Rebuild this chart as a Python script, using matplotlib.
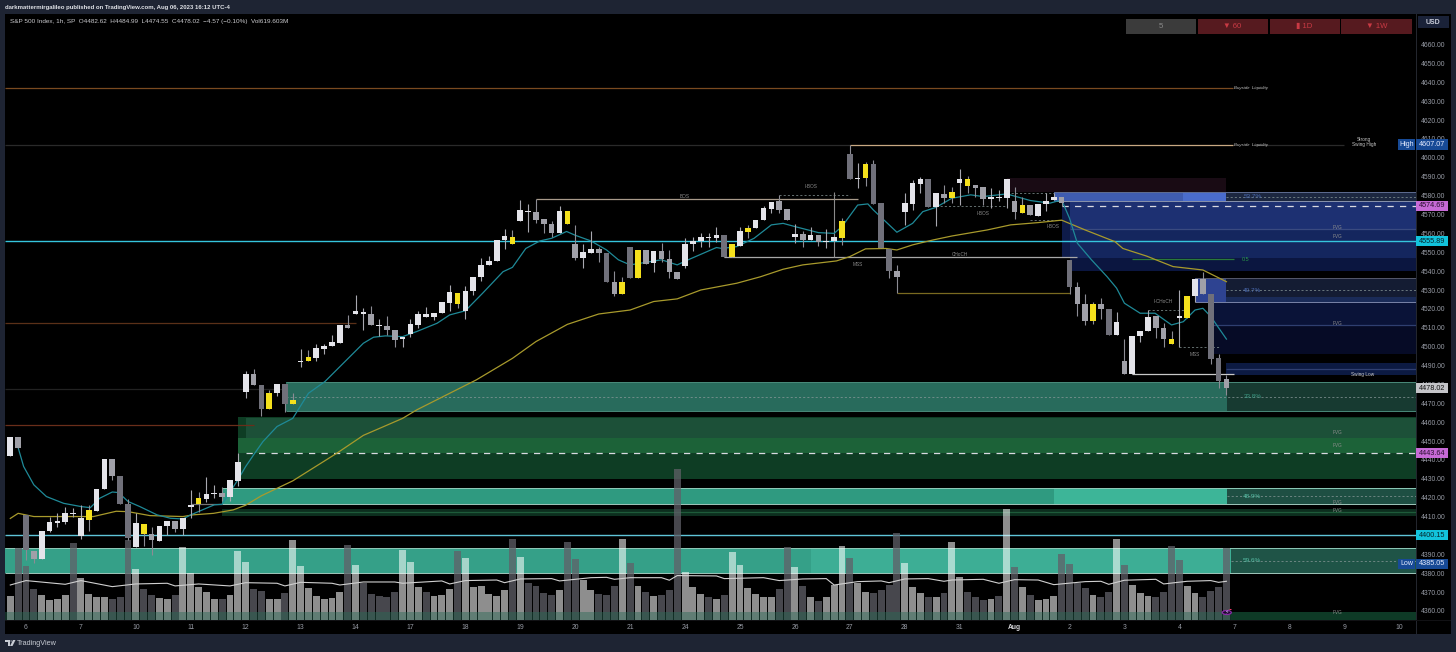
import matplotlib
matplotlib.use("Agg")
import matplotlib.pyplot as plt
from matplotlib.patches import Rectangle, Circle, Polygon
from matplotlib.transforms import blended_transform_factory

plt.rcParams['font.family'] = ['Liberation Sans', 'DejaVu Sans']

W, H = 1456, 652

# hourly candles
opens = [4442.3, 4452.2, 4410.9, 4391.8, 4387.5, 4402.2, 4406.8, 4407.3, 4411.4, 4399.7,
         4408.4, 4413.2, 4424.5, 4440.4, 4431.5, 4416.7, 4394.0, 4401.0, 4400.8, 4397.3,
         4404.9, 4407.7, 4403.6, 4415.0, 4416.5, 4419.5, 4422.0, 4422.5, 4420.4, 4428.9,
         4476.0, 4485.5, 4479.7, 4467.0, 4475.3, 4480.4, 4469.7, 4491.9, 4492.6, 4494.2,
         4498.8, 4500.4, 4502.1, 4511.5, 4517.5, 4517.3, 4517.1, 4510.8, 4511.0, 4509.0,
         4504.3, 4506.7, 4511.5, 4515.9, 4515.7, 4517.9, 4523.3, 4522.4, 4518.9, 4529.5,
         4536.7, 4543.3, 4545.4, 4556.3, 4554.6, 4566.8, 4571.2, 4571.2, 4567.5, 4564.8,
         4560.0, 4565.2, 4554.2, 4547.0, 4549.8, 4551.6, 4549.8, 4534.0, 4527.9, 4553.0,
         4536.6, 4551.2, 4544.5, 4550.9, 4546.5, 4539.8, 4542.7, 4554.4, 4555.8, 4557.4,
         4557.4, 4559.2, 4547.5, 4553.2, 4560.8, 4562.7, 4566.9, 4573.0, 4577.0, 4572.9,
         4558.3, 4559.5, 4556.5, 4559.2, 4555.3, 4556.0, 4557.6, 4602.0, 4588.8, 4589.5,
         4596.6, 4576.0, 4551.8, 4540.0, 4571.4, 4575.8, 4586.2, 4588.7, 4574.2, 4580.9,
         4578.8, 4586.5, 4585.3, 4585.5, 4584.4, 4578.4, 4578.5, 4578.6, 4577.2, 4571.0,
         4574.9, 4569.2, 4575.4, 4577.7, 4579.1, 4545.9, 4531.5, 4522.6, 4513.6, 4522.6,
         4519.8, 4506.0, 4492.4, 4485.5, 4505.7, 4508.5, 4516.3, 4509.7, 4501.6, 4515.4,
         4515.0, 4527.0, 4535.9, 4527.7, 4493.8, 4482.62]
highs = [4452.0, 4452.2, 4410.9, 4391.8, 4402.2, 4410.0, 4411.7, 4415.3, 4414.4, 4416.2,
         4416.2, 4424.5, 4440.4, 4440.4, 4431.5, 4419.2, 4412.0, 4406.0, 4404.3, 4404.9,
         4407.7, 4407.7, 4409.0, 4423.8, 4423.2, 4430.8, 4426.8, 4425.5, 4429.2, 4443.5,
         4487.3, 4488.2, 4479.7, 4477.0, 4480.4, 4480.4, 4475.7, 4498.8, 4498.3, 4501.4,
         4501.4, 4506.2, 4511.5, 4517.0, 4527.4, 4520.3, 4521.7, 4514.5, 4516.3, 4509.0,
         4505.1, 4514.5, 4519.0, 4520.8, 4517.7, 4523.7, 4532.7, 4528.6, 4532.2, 4536.7,
         4547.2, 4548.0, 4556.3, 4562.2, 4561.8, 4577.7, 4575.6, 4578.2, 4567.5, 4566.8,
         4574.5, 4571.7, 4564.5, 4554.4, 4561.0, 4553.0, 4549.8, 4540.3, 4536.7, 4553.0,
         4551.2, 4551.2, 4550.9, 4554.8, 4551.2, 4539.8, 4557.4, 4558.3, 4560.0, 4560.0,
         4563.6, 4559.2, 4554.2, 4563.6, 4564.5, 4567.1, 4574.5, 4576.6, 4580.4, 4572.9,
         4564.8, 4561.5, 4563.6, 4559.2, 4562.3, 4557.9, 4568.0, 4606.8, 4597.5, 4598.0,
         4599.0, 4576.0, 4551.8, 4543.3, 4581.2, 4588.3, 4589.7, 4588.7, 4581.2, 4585.7,
         4584.8, 4594.0, 4590.4, 4585.5, 4584.4, 4583.9, 4583.0, 4588.8, 4584.4, 4579.5,
         4574.9, 4575.4, 4581.6, 4581.6, 4579.1, 4545.9, 4534.4, 4527.9, 4523.5, 4526.0,
         4519.8, 4518.2, 4503.9, 4505.8, 4508.3, 4519.4, 4516.3, 4512.3, 4508.3, 4530.0,
         4527.0, 4536.0, 4539.8, 4527.7, 4496.0, 4484.99]
lows = [4442.3, 4446.5, 4387.0, 4385.3, 4387.5, 4401.7, 4404.7, 4406.0, 4409.6, 4398.0,
        4402.6, 4413.2, 4424.5, 4429.4, 4416.7, 4397.5, 4394.0, 4394.6, 4389.7, 4397.0,
        4400.3, 4402.0, 4400.3, 4409.0, 4412.6, 4417.9, 4419.7, 4418.0, 4418.0, 4426.0,
        4472.7, 4479.7, 4463.0, 4467.0, 4474.0, 4465.6, 4469.7, 4489.4, 4492.6, 4492.6,
        4496.0, 4500.4, 4502.1, 4509.7, 4517.5, 4508.8, 4511.3, 4505.7, 4506.2, 4500.0,
        4499.7, 4505.0, 4510.0, 4515.9, 4514.0, 4517.9, 4519.0, 4520.3, 4514.5, 4527.4,
        4535.0, 4543.3, 4545.4, 4551.8, 4554.6, 4566.8, 4560.9, 4565.3, 4560.0, 4558.0,
        4560.0, 4565.2, 4546.0, 4541.5, 4549.8, 4545.0, 4534.0, 4527.0, 4527.9, 4536.6,
        4536.6, 4544.0, 4539.8, 4545.0, 4536.6, 4536.0, 4541.5, 4550.9, 4553.0, 4553.0,
        4555.6, 4547.3, 4547.5, 4553.2, 4557.4, 4562.7, 4566.9, 4570.6, 4570.6, 4567.0,
        4555.0, 4552.6, 4556.5, 4553.5, 4552.0, 4556.0, 4553.9, 4588.8, 4583.9, 4585.0,
        4575.8, 4552.0, 4536.6, 4528.3, 4564.5, 4572.4, 4581.2, 4574.2, 4563.9, 4576.0,
        4576.0, 4575.0, 4581.2, 4579.5, 4575.0, 4573.3, 4577.0, 4573.3, 4567.5, 4571.0,
        4569.8, 4569.2, 4572.0, 4577.7, 4574.5, 4527.9, 4516.3, 4511.5, 4512.0, 4514.5,
        4506.0, 4506.0, 4485.7, 4485.5, 4502.7, 4508.5, 4504.4, 4499.7, 4501.6, 4500.0,
        4515.0, 4523.5, 4527.7, 4490.8, 4478.0, 4474.55]
closes = [4452.0, 4446.5, 4392.3, 4387.5, 4402.2, 4407.0, 4407.7, 4411.7, 4411.9, 4409.4,
          4413.5, 4424.5, 4440.4, 4431.5, 4416.7, 4398.9, 4406.4, 4406.0, 4397.4, 4404.9,
          4407.7, 4403.4, 4409.0, 4416.3, 4419.7, 4422.2, 4422.5, 4420.4, 4429.2, 4439.0,
          4485.6, 4479.7, 4466.8, 4475.7, 4480.4, 4469.7, 4471.8, 4492.5, 4494.4, 4499.1,
          4500.4, 4502.3, 4511.5, 4509.7, 4518.9, 4518.4, 4511.3, 4511.5, 4508.9, 4503.5,
          4505.1, 4511.9, 4517.1, 4517.1, 4517.7, 4523.7, 4529.2, 4528.6, 4529.7, 4536.7,
          4543.3, 4545.4, 4556.3, 4558.6, 4558.3, 4572.4, 4571.9, 4567.3, 4565.0, 4560.0,
          4571.9, 4571.7, 4547.2, 4550.3, 4551.6, 4549.8, 4534.0, 4527.9, 4534.4, 4536.6,
          4551.2, 4544.0, 4550.9, 4546.5, 4539.4, 4536.0, 4554.2, 4555.8, 4557.9, 4558.1,
          4559.0, 4547.3, 4554.2, 4561.0, 4562.7, 4567.1, 4573.3, 4576.6, 4572.4, 4567.0,
          4559.7, 4556.5, 4559.0, 4555.6, 4556.2, 4557.9, 4566.6, 4588.8, 4589.5, 4596.8,
          4575.8, 4552.0, 4540.0, 4537.0, 4576.0, 4586.5, 4588.8, 4574.2, 4581.2, 4578.8,
          4582.0, 4589.0, 4588.8, 4584.2, 4578.2, 4579.3, 4579.0, 4588.8, 4571.2, 4574.9,
          4569.8, 4575.4, 4577.4, 4579.0, 4576.3, 4531.8, 4522.8, 4513.6, 4522.6, 4519.8,
          4506.0, 4512.9, 4485.7, 4505.8, 4508.3, 4515.9, 4509.7, 4503.9, 4503.9, 4516.3,
          4527.0, 4536.0, 4527.7, 4493.7, 4482.0, 4478.02]
yellow_bars = [10, 17, 24, 33, 36, 38, 57, 64, 71, 78, 80, 92, 94, 106, 109, 120, 122, 129,
               138, 148, 150]

# volume in millions
volumes = [207, 623, 465, 267, 212, 172, 178, 215, 660, 359,
           224, 201, 195, 184, 201, 689, 442, 264, 215, 187,
           181, 212, 626, 408, 287, 244, 178, 178, 212, 591,
           499, 267, 250, 178, 178, 230, 689, 465, 273, 207,
           178, 187, 238, 643, 471, 316, 224, 207, 198, 241,
           603, 497, 287, 238, 207, 215, 264, 597, 534, 284,
           293, 221, 204, 258, 700, 540, 321, 293, 230, 215,
           258, 672, 528, 344, 258, 221, 215, 293, 697, 494,
           296, 241, 207, 215, 255, 1299, 410, 284, 221, 195,
           181, 212, 585, 471, 273, 221, 195, 195, 267, 629,
           456, 293, 198, 166, 198, 301, 640, 537, 316, 241,
           230, 255, 304, 746, 491, 284, 235, 195, 198, 232,
           672, 373, 241, 195, 169, 178, 204, 953, 456, 284,
           212, 169, 178, 204, 568, 485, 316, 276, 212, 195,
           241, 697, 474, 298, 232, 207, 198, 241, 637, 514,
           293, 230, 198, 250, 284, 619.6]
dark_vol_bars = [1, 2, 3, 8, 13, 14, 15, 17, 18, 21, 27, 31, 32, 35, 43, 45, 46, 47, 48, 49,
                 53, 57, 64, 66, 67, 68, 69, 71, 72, 75, 76, 77, 79, 81, 83, 84, 85, 89, 91,
                 98, 99, 101, 103, 107, 110, 111, 112, 113, 117, 119, 122, 123, 124, 126,
                 128, 130, 134, 135, 136, 137, 139, 140, 142, 146, 147, 148, 149, 152, 153,
                 154, 155]

vol_ma_bar = [0, 2, 7, 9, 13, 16, 20, 21, 24, 28, 30, 34, 35, 37, 41, 42, 45, 49, 50, 55, 56, 58,
              62, 63, 65, 69, 70, 74, 76, 77, 79, 83, 84, 85, 90, 91, 96, 98, 101, 104, 105, 108,
              111, 112, 114, 117, 119, 120, 124, 126, 128, 131, 133, 137, 139, 140, 142, 146, 147,
              150, 153, 154, 155]
vol_ma_val = [301, 339, 307, 339, 287, 310, 316, 293, 310, 293, 321, 316, 293, 324, 316, 301, 327,
              327, 316, 336, 310, 339, 344, 321, 353, 356, 336, 364, 367, 350, 364, 364, 342, 382,
              379, 356, 364, 339, 353, 356, 301, 330, 336, 321, 353, 356, 333, 344, 350, 316, 347,
              344, 304, 330, 333, 307, 342, 350, 310, 333, 339, 324, 333]

fast_ma_bar = [1, 1.7, 3, 4.6, 6.8, 9, 10.2, 11.4, 13, 13.8, 15, 16.5, 18.7, 20.4, 22, 23, 26, 27,
               29, 30, 31, 32.2, 34, 36, 38, 40.1, 45, 46.3, 47.8, 50, 51.8, 54.4, 56, 58, 60.2,
               62.8, 64, 65.7, 67.5, 69, 70.9, 72, 74, 76, 77.5, 79, 83, 85, 86.4, 90, 90.7, 92.6,
               94.8, 97, 98.5, 100, 103, 105, 106, 108, 109.3, 110, 113, 115, 116.3, 118, 120,
               122.4, 124, 127, 130, 132.5, 134, 135, 136, 137.8, 139.8, 141, 142, 144, 145.9, 148,
               149.5, 151, 152, 153, 155]
fast_ma_val = [4446.5, 4436.5, 4426.8, 4420.6, 4417, 4415.3, 4414.7, 4419.7, 4423, 4422.7, 4418,
               4415.3, 4410.9, 4409.1, 4408.7, 4410.9, 4416.2, 4416.5, 4429.4, 4436.5, 4442.6,
               4449.7, 4457.7, 4462, 4475.3, 4481.5, 4501.8, 4505, 4505.7, 4505.3, 4508, 4512.4,
               4516.8, 4519, 4528.3, 4539.7, 4542, 4552, 4556, 4557.4, 4561, 4559, 4556, 4551.2,
               4546, 4543.3, 4546, 4543.3, 4546, 4552.5, 4552, 4553, 4557.4, 4564.5, 4565.3, 4563.6,
               4560.4, 4560, 4563.6, 4575, 4575.6, 4572.4, 4560.6, 4565.3, 4571.5, 4573.8, 4578.6,
               4580.4, 4579.5, 4580.9, 4577.4, 4576, 4577.7, 4568, 4554.8, 4546, 4537, 4531, 4523,
               4517.7, 4517.7, 4511.5, 4513.2, 4519.4, 4520.3, 4516, 4504]

slow_ma_bar = [0, 1, 3, 9, 10.6, 13.5, 15, 17.8, 22, 23.3, 25.9, 28.4, 30, 32, 36, 41.6, 45, 50, 51.8,
               59.4, 64, 67, 71, 75, 79, 82, 85, 88, 92.6, 95.6, 98.5, 101, 105.3, 107, 109, 111.6,
               113, 115, 117.6, 120, 124.5, 127.5, 131, 134, 137, 140.8, 141.8, 144.8, 148.2, 152,
               155]
slow_ma_val = [4409, 4411.7, 4410, 4410, 4410, 4412.8, 4412.6, 4410.5, 4410, 4410.9, 4411.7, 4413.5,
               4416, 4421, 4428.9, 4443.5, 4453, 4462, 4466.5, 4482.4, 4493.8, 4502.7, 4511.8, 4517.3,
               4519.4, 4523.9, 4525.3, 4530, 4533.6, 4537, 4541, 4543.3, 4545.4, 4547.7, 4551.8, 4552,
               4551.2, 4553.9, 4556.5, 4558.6, 4561.8, 4564.5, 4565.7, 4567, 4561.8, 4555.6, 4552, 4548,
               4542.4, 4540.6, 4534.4]

day_labels = ['6', '7', '10', '11', '12', '13', '14', '17', '18', '19', '20', '21', '24', '25', '26',
              '27', '28', '31', 'Aug', '2', '3', '4', '7', '8', '9', '10']
price_ticks = list(range(4360, 4661, 10))

# zones: first bar, last bar, top price, bottom price
END = 179.2
zone_x0 = [127, 133, 149.5, 155, 134, 135, 135, 135, 151, 155, 155, 153, 153, 155,
           35.1, 155.1, 29, 30, 29, 27, 133, 155.1, 27, -0.7, 102, 155.6, 155.6]
zone_x1 = [155, 149.5, 155, END, 135, END, END, END, 155, END, END, END, END, END,
           155.1, END, END, END, END, 133, 155.1, END, END, 102, 155.6, END, END]
zone_top = [4589.2, 4581.7, 4581.7, 4581.7, 4576.6, 4576.6, 4562.2, 4547, 4536.2, 4536.2, 4526.5,
            4523.5, 4511.3, 4491.2, 4481.3, 4481.3, 4462.8, 4462, 4451.6, 4425, 4425, 4425, 4414,
            4393.2, 4393.2, 4393.2, 4359.6]
zone_bot = [4581.7, 4577.3, 4577.3, 4577.3, 4547, 4562.2, 4547, 4540.3, 4523.5, 4523.5, 4523.5,
            4511.3, 4496.1, 4485, 4466, 4466, 4429.9, 4451.6, 4443.6, 4416.5, 4416.5, 4416.5, 4410.5,
            4380.1, 4380.1, 4380.1, 4355.2]
zone_colors = ['#190b14', '#3f5cb0', '#4a6ccc', '#1c2740', '#0e1b4a', '#1d3072', '#14265e', '#0b1640',
               '#2e4391', '#141c33', '#1a2b58', '#0a1338', '#060b26', '#0c1a42',
               '#286b5c', '#173a31', '#0e3d24', '#1c5038', '#1c6238', '#2f9a80', '#3db598', '#1e4f43',
               '#0c2e1e', '#35a088', '#3dae95', '#1f5447', '#0e3a26']

# drawn levels: price, first bar, last bar
line_price = [4637, 4607, 4607, 4607, 4578.2, 4512.7, 4458.5, 4477.6, 4547.4, 4528.3, 4485.4, 4546.3,
              4416.5, 4488, 4511.3, 4562.2, 4412.3]
line_x0 = [-0.7, -0.7, 107, 158.5, 67, -0.7, -0.7, -0.7, 91, 113, 143, 143, 23, 155, 153, 135, 27]
line_x1 = [155.8, 107, 155.8, 170, 108, 44, 31, 35.1, 136, 135, 156, 156, 27, END, END, END, END]
line_colors = ['#7a4a20', '#2a2a2a', '#c8a882', '#2a2a2a', '#a89a8a', '#5a3018', '#6a2e1a', '#222222',
               '#a8a8a8', '#7a6a20', '#c8c8c8', '#2a7a3a', '#777777', '#2f3f70', '#2f3f70', '#3a4a80',
               '#1e5a3a']

dash_price = [4580.3, 4574.5, 4567, 4581.2, 4519.3, 4500, 4473.5, 4420.8, 4386.7, 4579.5, 4530]
dash_x0 = [98, 118, 130, 127, 145, 149, 35.1, 155.1, 155.6, 155, 155]
dash_x1 = [107, 127, 134, 133, 150, 154, END, END, END, END, END]

tag_price = [4607.07, 4574.69, 4555.89, 4478.02, 4443.64, 4400.15, 4385.05]
tag_colors = ['#174a96', '#c76ad6', '#12c3dc', '#c4c4c8', '#c76ad6', '#12c3dc', '#174a96']
tag_text = ['#e6ecff', '#2a1030', '#06252b', '#111111', '#2a1030', '#06252b', '#e6ecff']

small_notes = ['FVG', 'FVG', 'FVG', 'FVG', 'FVG', 'FVG', 'FVG', 'FVG', 'Swing Low', 'BOS', 'I-BOS',
               'CHoCH', 'MSS', 'I-BOS', 'I-BOS', 'I-CHoCH', 'MSS']
note_x = [169.1, 169.1, 169.1, 169.1, 169.1, 169.1, 169.1, 169.1, 172.4, 86, 102, 121, 108, 124,
          132.9, 147, 151]
note_y = [4563.2, 4558.5, 4512, 4454.4, 4447.6, 4417.6, 4413, 4359, 4485.5, 4579.3, 4584.6, 4548.6,
          4543.3, 4570.3, 4563.4, 4523.7, 4496.1]
pct_notes = ['53.7%', '40.7%', '33.8%', '48.9%', '59.6%']
pct_y = [4579.5, 4530, 4473.5, 4420.8, 4386.7]
pct_colors = ['#4a6ab0', '#4a6ab0', '#3c9a84', '#56bca4', '#56bca4']


def box(x0, y0, x1, y1, color, z=0.5):
    # rectangle given in figure pixels, y from the top
    fig.add_artist(Rectangle((x0 / W, 1 - y1 / H), (x1 - x0) / W, (y1 - y0) / H,
                             transform=fig.transFigure, color=color, lw=0, zorder=z))


def label(x, y, s, color, size, ha='left', weight='normal', z=8):
    fig.text(x / W, 1 - y / H, s, color=color, fontsize=size, ha=ha, va='center',
             fontweight=weight, zorder=z)


fig = plt.figure(figsize=(W / 100, H / 100), dpi=100, facecolor='#1e2433')

box(5, 14, 1451, 634, '#000000', z=0.1)
box(1416, 14, 1417, 634, '#23262e', z=0.2)
box(5, 620, 1451, 621, '#111114', z=0.2)

rect = [5 / W, 1 - 620 / H, (1416.3 - 5) / W, (620 - 14) / H]
XLIM = (-0.675, END)
YLIM = (4355.2, 4676.2)

ax_zone = fig.add_axes(rect, zorder=1, facecolor='none')
ax_vol = fig.add_axes(rect, zorder=2, facecolor='none')
ax = fig.add_axes(rect, zorder=3, facecolor='none')
for a in (ax_zone, ax_vol, ax):
    a.set_xlim(*XLIM)
    for s in a.spines.values():
        s.set_visible(False)
ax_zone.set_ylim(*YLIM)
ax.set_ylim(*YLIM)
ax_vol.set_ylim(0, 5212)
ax_zone.set_xticks([])
ax_zone.set_yticks([])
ax_vol.set_xticks([])
ax_vol.set_yticks([])

# zones and levels under the volume
for x0, x1, top, bot, c in zip(zone_x0, zone_x1, zone_top, zone_bot, zone_colors):
    ax_zone.add_patch(Rectangle((x0, bot), x1 - x0, top - bot, color=c, lw=0))
ax_zone.hlines(line_price, line_x0, line_x1, colors=line_colors, lw=0.9)
ax_zone.hlines(dash_price, dash_x0, dash_x1, colors='#8a9a9a', lw=0.5, linestyles=(0, (3, 3)))
ax_zone.hlines([4574.69, 4443.64], [134, 30], [END, END], colors='#d8d8e0', lw=0.9, linestyles=(0, (5, 5)))
ax_zone.hlines([4555.89, 4400.15], -0.7, END, colors=['#35c5dd', '#5fc4d8'], lw=1.0)
# edges of the teal boxes
ax_zone.hlines([4481.3, 4466, 4425, 4416.5, 4393.2, 4380.1], [35.1, 35.1, 27, 27, -0.7, -0.7], END,
               colors=['#4a8a7a', '#4a8a7a', '#8fc9b8', '#a0c8bc', '#8fc9b8', '#a0c8bc'], lw=0.7)
ax_zone.hlines([4536.2, 4523.5, 4581.7, 4577.3], [151, 151, 133, 133], END,
               colors=['#55586a', '#7a84a8', '#5e6c90', '#8a94b0'], lw=0.7)
ax_zone.vlines(105, 4547.4, 4582, colors='#8a8a8a', lw=0.8)

# volume pane
vol_colors = ['#606068' if i in dark_vol_bars else '#ffffff' for i in range(len(volumes))]
vol_alpha = [0.75 if i in dark_vol_bars else 0.56 for i in range(len(volumes))]
bars = ax_vol.bar(range(len(volumes)), volumes, width=0.88, color=vol_colors, lw=0)
for b, al in zip(bars, vol_alpha):
    b.set_alpha(al)
ax_vol.plot(vol_ma_bar, vol_ma_val, color='#d0d0d0', lw=0.8)

# green tint over the foot of the volume
ax.add_patch(Rectangle((-0.7, 4355.2), 156.3, 4.4, color='#2a6a55', alpha=0.45, lw=0, zorder=1))

ax.plot(slow_ma_bar, slow_ma_val, color='#a89a2c', lw=0.9, zorder=2)
ax.plot(fast_ma_bar, fast_ma_val, color='#1f8a98', lw=0.9, zorder=2)

# candles
for i in range(len(opens)):
    top = max(opens[i], closes[i])
    bot = min(opens[i], closes[i])
    if i in yellow_bars:
        c = '#f4e01c'
    elif closes[i] >= opens[i]:
        c = '#e4e4ea'
    elif top - bot >= 10:
        c = '#70707a'
    else:
        c = '#a0a0a8'
    ax.vlines(i, lows[i], highs[i], colors='#8c8c94' if c != '#e4e4ea' else '#a8a8b0', lw=0.8, zorder=3)
    ax.bar(i, max(top - bot, 0.6), bottom=bot, width=0.72, color=c, lw=0, zorder=4)

# notes on the chart
for s, x, y in zip(small_notes, note_x, note_y):
    c = '#d0d0d0' if s == 'Swing Low' else '#8c8c8c'
    ax.text(x, y, s, color=c, fontsize=3.4, ha='center', va='center', zorder=5)
for y in (4637, 4606.8):
    ax.text(158.1, y, 'Buyside  Liquidity', color='#c8c8c8', fontsize=3.2, style='italic',
            ha='center', va='center', zorder=5)
ax.text(172.5, 4608.5, 'Strong\nSwing High', color='#c8c8c8', fontsize=3.4, ha='center', va='center',
        linespacing=1.0, zorder=5)
ax.text(157.4, 4545.9, '0.5', color='#2a9a4a', fontsize=4, ha='center', va='center', zorder=5)
for s, y, c in zip(pct_notes, pct_y, pct_colors):
    ax.text(158.3, y, s, color=c, fontsize=4.6, ha='center', va='center', zorder=5)

# axes labels
ax.yaxis.tick_right()
ax.set_yticks(price_ticks)
ax.set_yticklabels(['%.2f' % p for p in price_ticks])
ax.set_xticks(range(2, 2 + 7 * len(day_labels), 7))
ax.set_xticklabels(day_labels)
ax.tick_params(axis='both', length=0, labelcolor='#989ca6', labelsize=4.9)
ax.tick_params(axis='y', pad=3.4)
ax.tick_params(axis='x', pad=3.0)
for t in ax.get_xticklabels():
    if t.get_text() == 'Aug':
        t.set_color('#d8d8dc')
        t.set_fontweight('bold')

# price tags on the axis
tr = blended_transform_factory(ax.transAxes, ax.transData)
tag_w = 32 / 1411.3
for p, c, tc in zip(tag_price, tag_colors, tag_text):
    ax.add_patch(Rectangle((1.0, p - 2.7), tag_w, 5.4, transform=tr, color=c, lw=0, clip_on=False, zorder=10))
    ax.text(1.0 + tag_w / 2, p, '%.2f' % p, transform=tr, color=tc, fontsize=5.2, ha='center', va='center',
            clip_on=False, zorder=11)
for p, s in zip([4607.07, 4385.05], ['High', 'Low']):
    ax.add_patch(Rectangle((1.0 - 18 / 1411.3, p - 2.7), 17 / 1411.3, 5.4, transform=tr, color='#174a96', lw=0,
                           clip_on=False, zorder=10))
    ax.text(1.0 - 9.5 / 1411.3, p, s, transform=tr, color='#e6ecff', fontsize=5, ha='center', va='center',
            clip_on=False, zorder=11)

# header and legend
label(5, 8, 'darkmattermirgalileo published on TradingView.com, Aug 06, 2023 16:12 UTC-4', '#dfe1e6', 4.35, weight='bold')
label(9.5, 21.5, 'S&P 500 Index, 1h, SP  O4482.62  H4484.99  L4474.55  C4478.02  \u22124.57 (\u22120.10%)  Vol619.603M',
      '#c8c8cc', 4.6)

# timeframe buttons
btn_x0 = [1125.7, 1197.5, 1269.5, 1341]
btn_x1 = [1196, 1267.5, 1339.5, 1411.5]
btn_text = ['5', '\u25bc 60', '\u25ae 1D', '\u25bc 1W']
for x0, x1, s in zip(btn_x0, btn_x1, btn_text):
    grey = s == '5'
    box(x0, 19, x1, 34, '#3b3b3b' if grey else '#561a1f', z=5)
    label((x0 + x1) / 2, 26.5, s, '#8a8a8a' if grey else '#c93a44', 5.6, ha='center')
box(1418, 16, 1448.5, 27.5, '#1a2238', z=5)
label(1433, 22, 'USD', '#c8ccd8', 5, ha='center', weight='bold')

# footer logo and name
box(5, 640, 9.5, 642, '#c8ccd4', z=5)
box(7.5, 640, 9.5, 646, '#c8ccd4', z=5)
fig.add_artist(Circle((11.2 / W, 1 - 641 / H), 1.0 / W, transform=fig.transFigure, color='#c8ccd4', lw=0, zorder=5))
logo_x = [13, 15.5, 12.5, 10]
logo_y = [640, 640, 646, 646]
fig.add_artist(Polygon([(x / W, 1 - y / H) for x, y in zip(logo_x, logo_y)], closed=True,
                       transform=fig.transFigure, color='#c8ccd4', lw=0, zorder=5))
label(17, 643.5, 'TradingView', '#c8ccd4', 5.2)

# lightning icon at the last bar
fig.add_artist(Circle((1226.8 / W, 1 - 612.5 / H), 4.5 / W, transform=fig.transFigure, fc='#1a0a2a', ec='#8a2aa8',
                      lw=0.9, zorder=6))
fig.add_artist(Circle((1230.5 / W, 1 - 609.5 / H), 1.2 / W, transform=fig.transFigure, color='#f0386a', lw=0, zorder=7))
label(1226.8, 612.5, '\u26a1', '#c8a8e8', 4.5, ha='center')

fig.savefig('out.png', dpi=100, facecolor=fig.get_facecolor())
